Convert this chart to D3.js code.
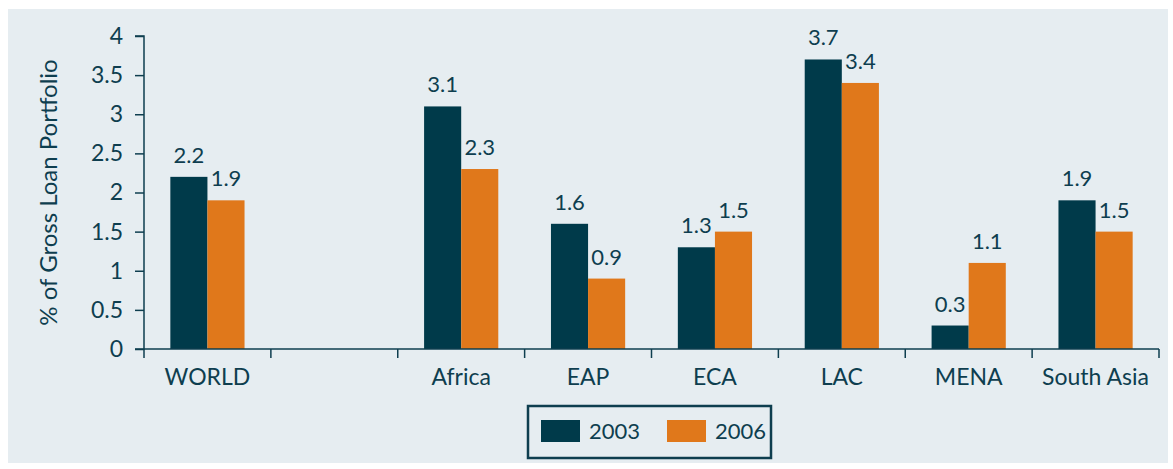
<!DOCTYPE html>
<html>
<head>
<meta charset="utf-8">
<script src="https://cdn.jsdelivr.net/npm/d3@7"></script>
<style>
  body { margin: 0; background: #fff; }
  svg { display: block; }
  text { font-family: Lato, "Open Sans", sans-serif; fill: #0e3e4f; }
</style>
</head>
<body>
<div id="chart"></div>
<script>
// data
const categories = ["WORLD", "", "Africa", "EAP", "ECA", "LAC", "MENA", "South Asia"];
const series = ["2003", "2006"];
const values2003 = [2.2, null, 3.1, 1.6, 1.3, 3.7, 0.3, 1.9];
const values2006 = [1.9, null, 2.3, 0.9, 1.5, 3.4, 1.1, 1.5];
const yTicks = [0, 0.5, 1, 1.5, 2, 2.5, 3, 3.5, 4];

const width = 1173, height = 469;
const margin = {top: 36, right: 14, bottom: 120, left: 144};
const colors = {"2003": "#003a4a", "2006": "#e0781b"};
const ink = "#0e3e4f";

const svg = d3.select("#chart").append("svg")
  .attr("width", width)
  .attr("height", height);

// panel background
svg.append("rect")
  .attr("x", 8).attr("y", 9)
  .attr("width", width - 13).attr("height", height - 15)
  .attr("fill", "#e6edf1");

const x = d3.scaleBand()
  .domain(d3.range(categories.length))
  .range([margin.left, 1159]);

const xInner = d3.scaleBand()
  .domain(series)
  .range([0, x.bandwidth()])
  .paddingOuter(0.71)
  .paddingInner(0);

const y = d3.scaleLinear()
  .domain([0, 4])
  .range([349, margin.top]);

const rows = categories.map((c, i) => ({
  i, cat: c,
  vals: [{s: "2003", v: values2003[i]}, {s: "2006", v: values2006[i]}].filter(d => d.v != null)
}));

const groups = svg.append("g")
  .selectAll("g")
  .data(rows)
  .join("g")
  .attr("transform", d => `translate(${x(d.i)},0)`);

groups.selectAll("rect")
  .data(d => d.vals)
  .join("rect")
  .attr("x", d => xInner(d.s))
  .attr("y", d => y(d.v))
  .attr("width", xInner.bandwidth())
  .attr("height", d => y(0) - y(d.v))
  .attr("fill", d => colors[d.s]);

groups.selectAll("text")
  .data(d => d.vals)
  .join("text")
  .attr("x", d => xInner(d.s) + xInner.bandwidth() / 2)
  .attr("y", d => y(d.v) - 14)
  .attr("text-anchor", "middle")
  .style("font-size", "22px")
  .text(d => d.v.toFixed(1));

// y axis
const yAxis = svg.append("g")
  .attr("transform", `translate(${margin.left},0)`)
  .call(d3.axisLeft(y).tickValues(yTicks).tickSize(9).tickPadding(12).tickFormat(d3.format("")));
yAxis.selectAll("text").style("font-size", "23px").attr("fill", ink);

// x axis: ticks on band edges
const xAxis = svg.append("g")
  .attr("transform", `translate(0,${y(0)})`);
xAxis.append("line")
  .attr("x1", margin.left).attr("x2", 1159);
xAxis.selectAll(".tick")
  .data(d3.range(categories.length + 1))
  .join("line")
  .attr("class", "tick")
  .attr("x1", i => i < categories.length ? x(i) : x(i - 1) + x.bandwidth())
  .attr("x2", i => i < categories.length ? x(i) : x(i - 1) + x.bandwidth())
  .attr("y1", 0).attr("y2", 9);
xAxis.selectAll("text")
  .data(rows)
  .join("text")
  .attr("x", d => x(d.i) + x.bandwidth() / 2)
  .attr("y", 36)
  .attr("text-anchor", "middle")
  .style("font-size", "23px")
  .text(d => d.cat);

svg.selectAll(".domain, .tick line, g line").attr("stroke", ink).attr("stroke-width", 1.5);
yAxis.select(".domain").attr("d", `M-9,${y(4)}H0V${y(0)}H-9`);

// y axis title
svg.append("text")
  .attr("transform", `translate(57,${(y(0) + y(4)) / 2}) rotate(-90)`)
  .attr("text-anchor", "middle")
  .style("font-size", "24px")
  .text("% of Gross Loan Portfolio");

// legend
const legend = svg.append("g").attr("transform", "translate(528,406)");
legend.append("rect")
  .attr("width", 243).attr("height", 52)
  .attr("fill", "none")
  .attr("stroke", ink).attr("stroke-width", 2.5);
const items = legend.selectAll("g.item")
  .data(series)
  .join("g")
  .attr("class", "item")
  .attr("transform", (d, i) => `translate(${13 + i * 126},14)`);
items.append("rect")
  .attr("width", 39).attr("height", 22)
  .attr("fill", d => colors[d]);
items.append("text")
  .attr("x", 48).attr("y", 19)
  .style("font-size", "22px")
  .text(d => d);
</script>
</body>
</html>
